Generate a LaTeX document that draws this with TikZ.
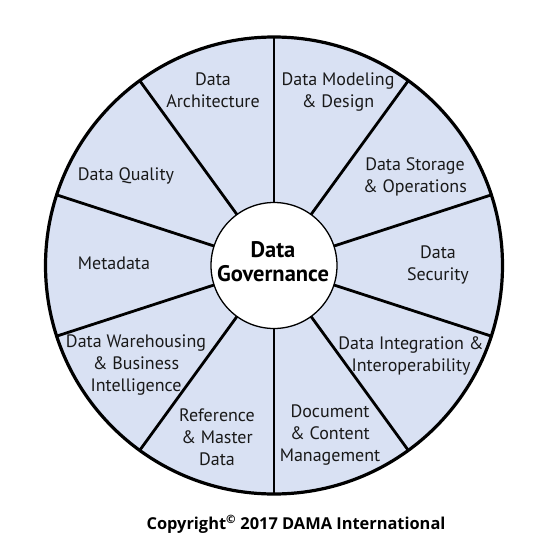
\documentclass[tikz,border=0pt]{standalone}
\usepackage{fontspec}
\usetikzlibrary{calc}
\setmainfont{PT Sans}
\newfontfamily\copyfont{Open Sans}
\definecolor{wedge}{RGB}{217,225,243}
\begin{document}
\begin{tikzpicture}[x=1pt,y=-1pt,
  lbl/.style={align=center,font=\fontsize{18}{22}\selectfont,text=black!90,inner sep=0pt},
  spoke/.style={line width=2.8pt,black}]
\useasboundingbox (0,0) rectangle (545,557);
\coordinate (c) at (274,265.5);
\fill[wedge] (c) circle[radius=228.5];
\foreach \a in {90,54,18,-18,-54,-90,-126,-162,162,126}{
  \draw[spoke] ($(c)+(\a:63)$) -- ($(c)+(\a:228.5)$);
}
\draw[line width=3.2pt] (c) circle[radius=228.5];
\node[circle,draw=black,line width=1.3pt,fill=white,minimum size=126pt,inner sep=0pt] (dg) at (c) {};
\node[align=center,font=\fontsize{22.5}{24}\bfseries\selectfont,inner sep=0pt] (dgt) at (273,262) {Data\\Governance};
\node[lbl] (arch) at (213,90) {Data\\Architecture};
\node[lbl] (model) at (338,92) {Data Modeling\\\& Design};
\node[lbl] (stor) at (415,177) {Data Storage\\\& Operations};
\node[lbl] (sec) at (438,265) {Data\\Security};
\node[lbl] (integ) at (411,356) {Data Integration \&\\Interoperability};
\node[lbl] (doc) at (330,435) {Document\\\& Content\\Management};
\node[lbl] (ref) at (217,437) {Reference\\\& Master\\Data};
\node[lbl] (dw) at (136,365) {Data Warehousing\\\& Business\\Intelligence};
\node[lbl] (meta) at (114,263) {Metadata};
\node[lbl] (qual) at (126,176) {Data Quality};
\node[font=\copyfont\bfseries\fontsize{16.4}{18}\selectfont,inner sep=0pt] (copy) at (296,524) {Copyright\textsuperscript{\textcopyright} 2017 DAMA International};
\end{tikzpicture}
\end{document}
